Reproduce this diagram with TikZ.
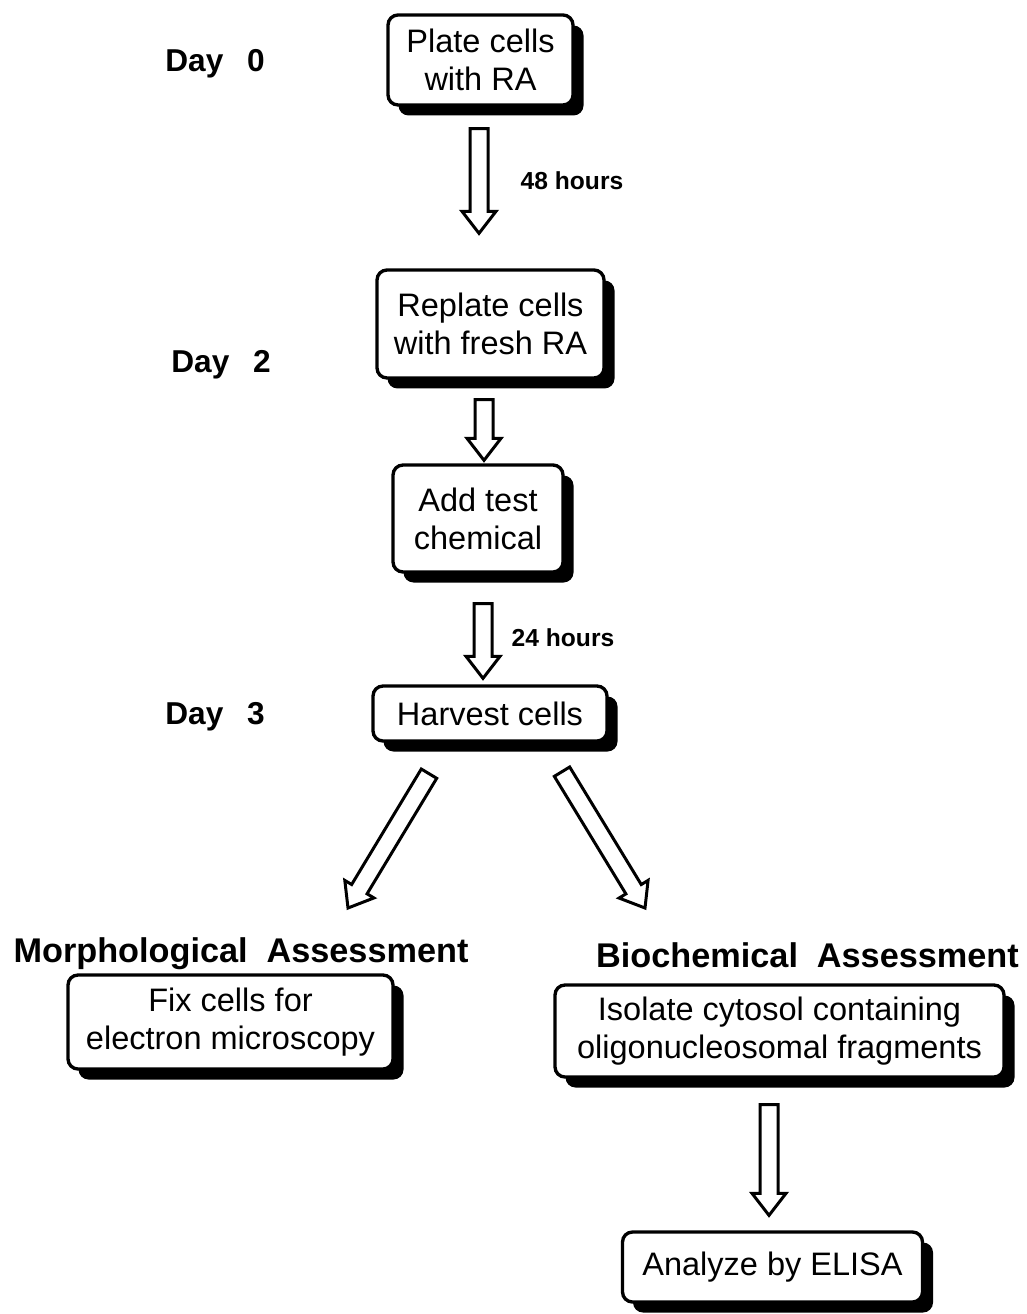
\documentclass[tikz,border=0pt]{standalone}
\usepackage{fontspec}
\setmainfont{Liberation Sans}
\usetikzlibrary{calc}
\usetikzlibrary{shadows}

% open block arrow from #1 to #2
\newcommand{\hollowarrow}[2]{%
    \coordinate (ha) at (#1);
    \coordinate (hb) at (#2);
    \coordinate (hh) at ($(hb)!0.44cm!(ha)$);
    \draw[hollow] ($(ha)!0.18cm!90:(hb)$) -- ($(hh)!0.18cm!90:(hb)$) --
          ($(hh)!0.34cm!90:(hb)$) -- (hb) -- ($(hh)!0.34cm!-90:(hb)$) --
          ($(hh)!0.18cm!-90:(hb)$) -- ($(ha)!0.18cm!-90:(hb)$) -- cycle;
}

\begin{document}
\begin{tikzpicture}[
        procbox/.style={draw, line width=1.9pt, rounded corners=0.2cm, fill=white,
            align=center, inner sep=2pt,
            font=\fontsize{18.5}{21.6}\selectfont,
            drop shadow={shadow xshift=0.21cm, shadow yshift=-0.21cm,
                fill=black, opacity=1}},
        daylbl/.style={anchor=base, font=\fontsize{18}{21}\selectfont\bfseries},
        timelbl/.style={anchor=base, font=\fontsize{14}{17}\selectfont\bfseries},
        headlbl/.style={anchor=base, font=\fontsize{19.5}{23}\selectfont\bfseries},
        hollow/.style={line width=1.7pt, fill=white},
    ]

    \useasboundingbox (0,0) rectangle (20.52,-26.28);

    \node[procbox, minimum width=3.70cm, minimum height=1.80cm] (plate) at (9.61, -1.20) {Plate cells\\with RA};
    \node[procbox, minimum width=4.54cm, minimum height=2.16cm] (replate) at (9.81, -6.48) {Replate cells\\with fresh RA};
    \node[procbox, minimum width=3.40cm, minimum height=2.14cm] (addchem) at (9.56, -10.37) {Add test\\chemical};
    \node[procbox, minimum width=4.68cm, minimum height=1.10cm] (harvest) at (9.80, -14.27) {Harvest cells};
    \node[procbox, minimum width=6.50cm, minimum height=1.88cm] (fixcells) at (4.61, -20.44) {Fix cells for\\electron microscopy};
    \node[procbox, minimum width=8.98cm, minimum height=1.84cm] (isolate) at (15.59, -20.62) {Isolate cytosol containing\\oligonucleosomal fragments};
    \node[procbox, minimum width=6.00cm, minimum height=1.40cm] (elisa) at (15.45, -25.34) {Analyze by ELISA};

    \node[daylbl] (day0) at (4.30, -1.44) {Day\hspace{0.75em}0};
    \node[daylbl] (day2) at (4.42, -7.46) {Day\hspace{0.75em}2};
    \node[daylbl] (day3) at (4.30, -14.48) {Day\hspace{0.75em}3};

    \node[timelbl] (hours48) at (11.44, -3.80) {48 hours};
    \node[timelbl] (hours24) at (11.26, -12.92) {24 hours};

    \node[headlbl] (morph) at (4.82, -19.24) {Morphological\hspace{0.55em}Assessment};
    \node[headlbl] (biochem) at (16.15, -19.34) {Biochemical\hspace{0.55em}Assessment};

    \coordinate (a1s) at ($(plate.south)+(-0.03,-0.44)$);
    \coordinate (a1e) at ($(plate.south |- replate.north)+(-0.03,0.70)$);
    \coordinate (a2s) at ($(replate.south)+(-0.13,-0.40)$);
    \coordinate (a2e) at ($(replate.south |- addchem.north)+(-0.13,0.06)$);
    \coordinate (a3s) at ($(addchem.south)+(0.10,-0.60)$);
    \coordinate (a3e) at ($(addchem.south |- harvest.north)+(0.10,0.12)$);
    \coordinate (a4s) at ($(harvest.south)+(-1.22,-0.62)$);
    \coordinate (a4e) at (6.96, -18.16);
    \coordinate (a5s) at ($(harvest.south)+(1.44,-0.58)$);
    \coordinate (a5e) at (12.90, -18.16);
    \coordinate (a6s) at ($(isolate.south)+(-0.21,-0.52)$);
    \coordinate (a6e) at ($(isolate.south |- elisa.north)+(-0.21,0.30)$);

    \foreach \s/\e in {a1s/a1e, a2s/a2e, a3s/a3e, a4s/a4e, a5s/a5e, a6s/a6e}
        {\hollowarrow{\s}{\e}}

\end{tikzpicture}
\end{document}
